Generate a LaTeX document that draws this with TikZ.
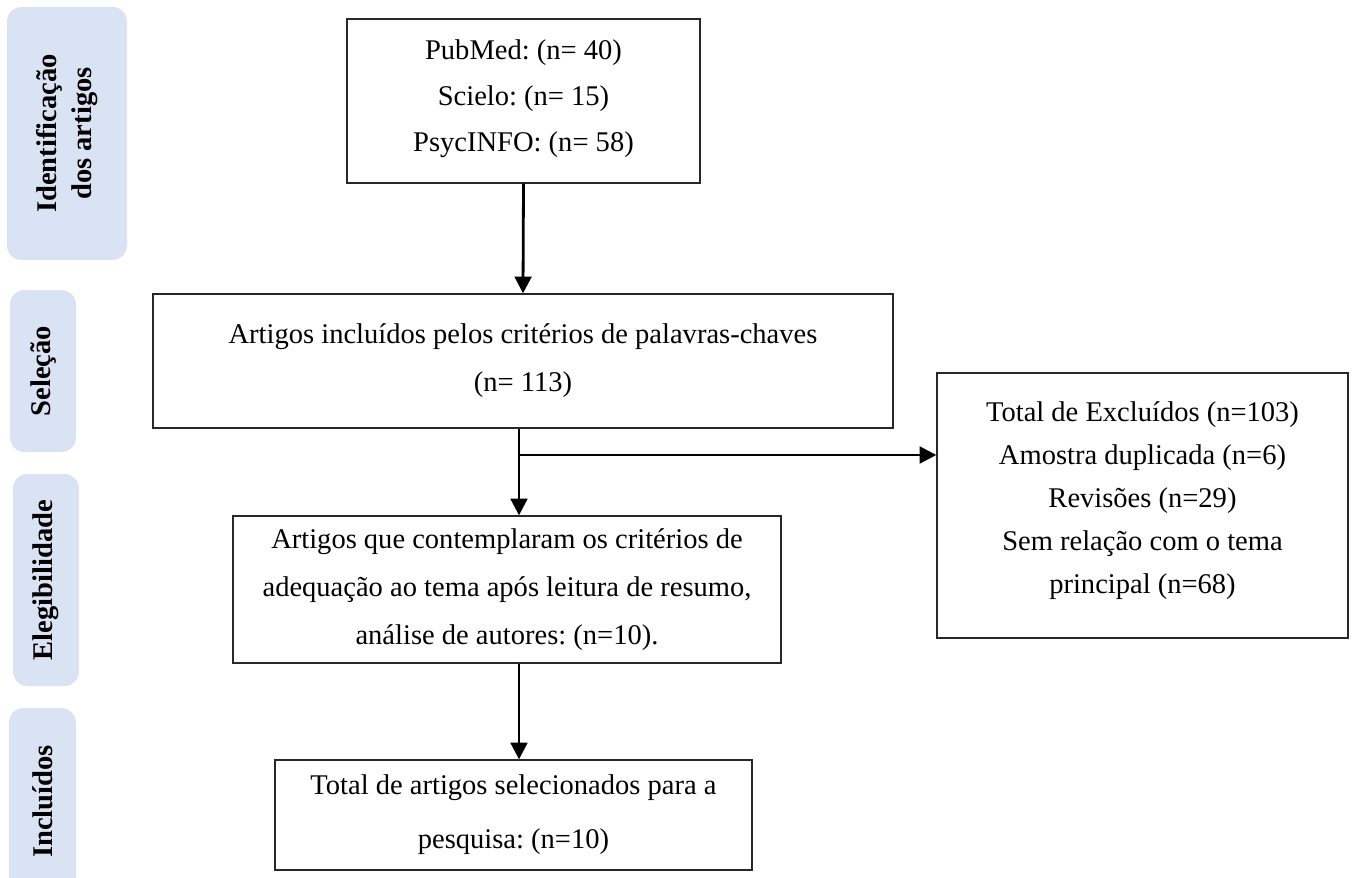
\documentclass[tikz,border=0pt]{standalone}
\usepackage{fontspec}
\setmainfont{Liberation Serif}
\frenchspacing
\definecolor{phaseblue}{HTML}{DAE3F3}
\definecolor{boxline}{RGB}{40,40,40}
\usetikzlibrary{arrows.meta,positioning}

\begin{document}
\begin{tikzpicture}[x=0.75pt, y=-0.75pt,
    flowbox/.style={rectangle, draw=boxline, line width=1pt, fill=white,
                    align=center, inner sep=0pt,
                    font=\fontsize{21.4}{36}\selectfont},
    phasebox/.style={rectangle, rounded corners=11pt, fill=phaseblue, rotate=90,
                     align=center, inner sep=0pt,
                     font=\fontsize{21.4}{26}\selectfont\bfseries},
    arr/.style={-{Triangle[length=12.5pt, width=12.5pt]}, line width=2.1pt}
  ]
    \clip (0,0) rectangle (1354,878);
    \fill[white] (0,0) rectangle (1354,878);

    % Phase labels on the left
    \node[phasebox, minimum width=189.75pt, minimum height=90pt]   (ident) at (67,133.5)  {Identificação\\dos artigos};
    \node[phasebox, minimum width=121.5pt,  minimum height=49.5pt] (selec) at (43,371)    {Seleção};
    \node[phasebox, minimum width=159pt,    minimum height=49.5pt] (elegi) at (46,580)    {Elegibilidade};
    \node[phasebox, minimum width=140.25pt, minimum height=50.25pt] (inclu) at (42.5,801.5) {Incluídos};

    % Flow boxes
    \node[flowbox, minimum width=264.75pt, minimum height=123pt,
          font=\fontsize{21.4}{34.5}\selectfont, text depth=7.5pt] (src) at (523.5,101)
      {PubMed: (n= 40)\\Scielo: (n= 15)\\PsycINFO: (n= 58)};
    \node[flowbox, minimum width=555pt, minimum height=100.5pt] (sel) at (523,361)
      {Artigos incluídos pelos critérios de palavras-chaves\\(n= 113)};
    \node[flowbox, minimum width=308.25pt, minimum height=198.75pt,
          font=\fontsize{21.4}{32.25}\selectfont, text depth=12pt] (excl) at (1142.5,505.5)
      {Total de Excluídos (n=103)\\Amostra duplicada (n=6)\\Revisões (n=29)\\Sem relação com o tema\\principal (n=68)};
    \node[flowbox, minimum width=411pt, minimum height=110.25pt] (elig) at (507,589.5)
      {Artigos que contemplaram os critérios de\\adequação ao tema após leitura de resumo,\\análise de autores: (n=10).};
    \node[flowbox, minimum width=357.75pt, minimum height=82.5pt,
          font=\fontsize{21.4}{40.5}\selectfont] (final) at (513.5,815)
      {Total de artigos selecionados para a\\pesquisa: (n=10)};

    % Connectors
    \coordinate (spine) at (519,455);
    \draw[arr] (src.south) -- (sel.north);
    \draw[arr] (sel.south -| spine) -- (elig.north -| spine);
    \draw[arr] (spine) -- (spine -| excl.west);
    \draw[arr] (elig.south -| spine) -- (final.north -| spine);
\end{tikzpicture}
\end{document}
